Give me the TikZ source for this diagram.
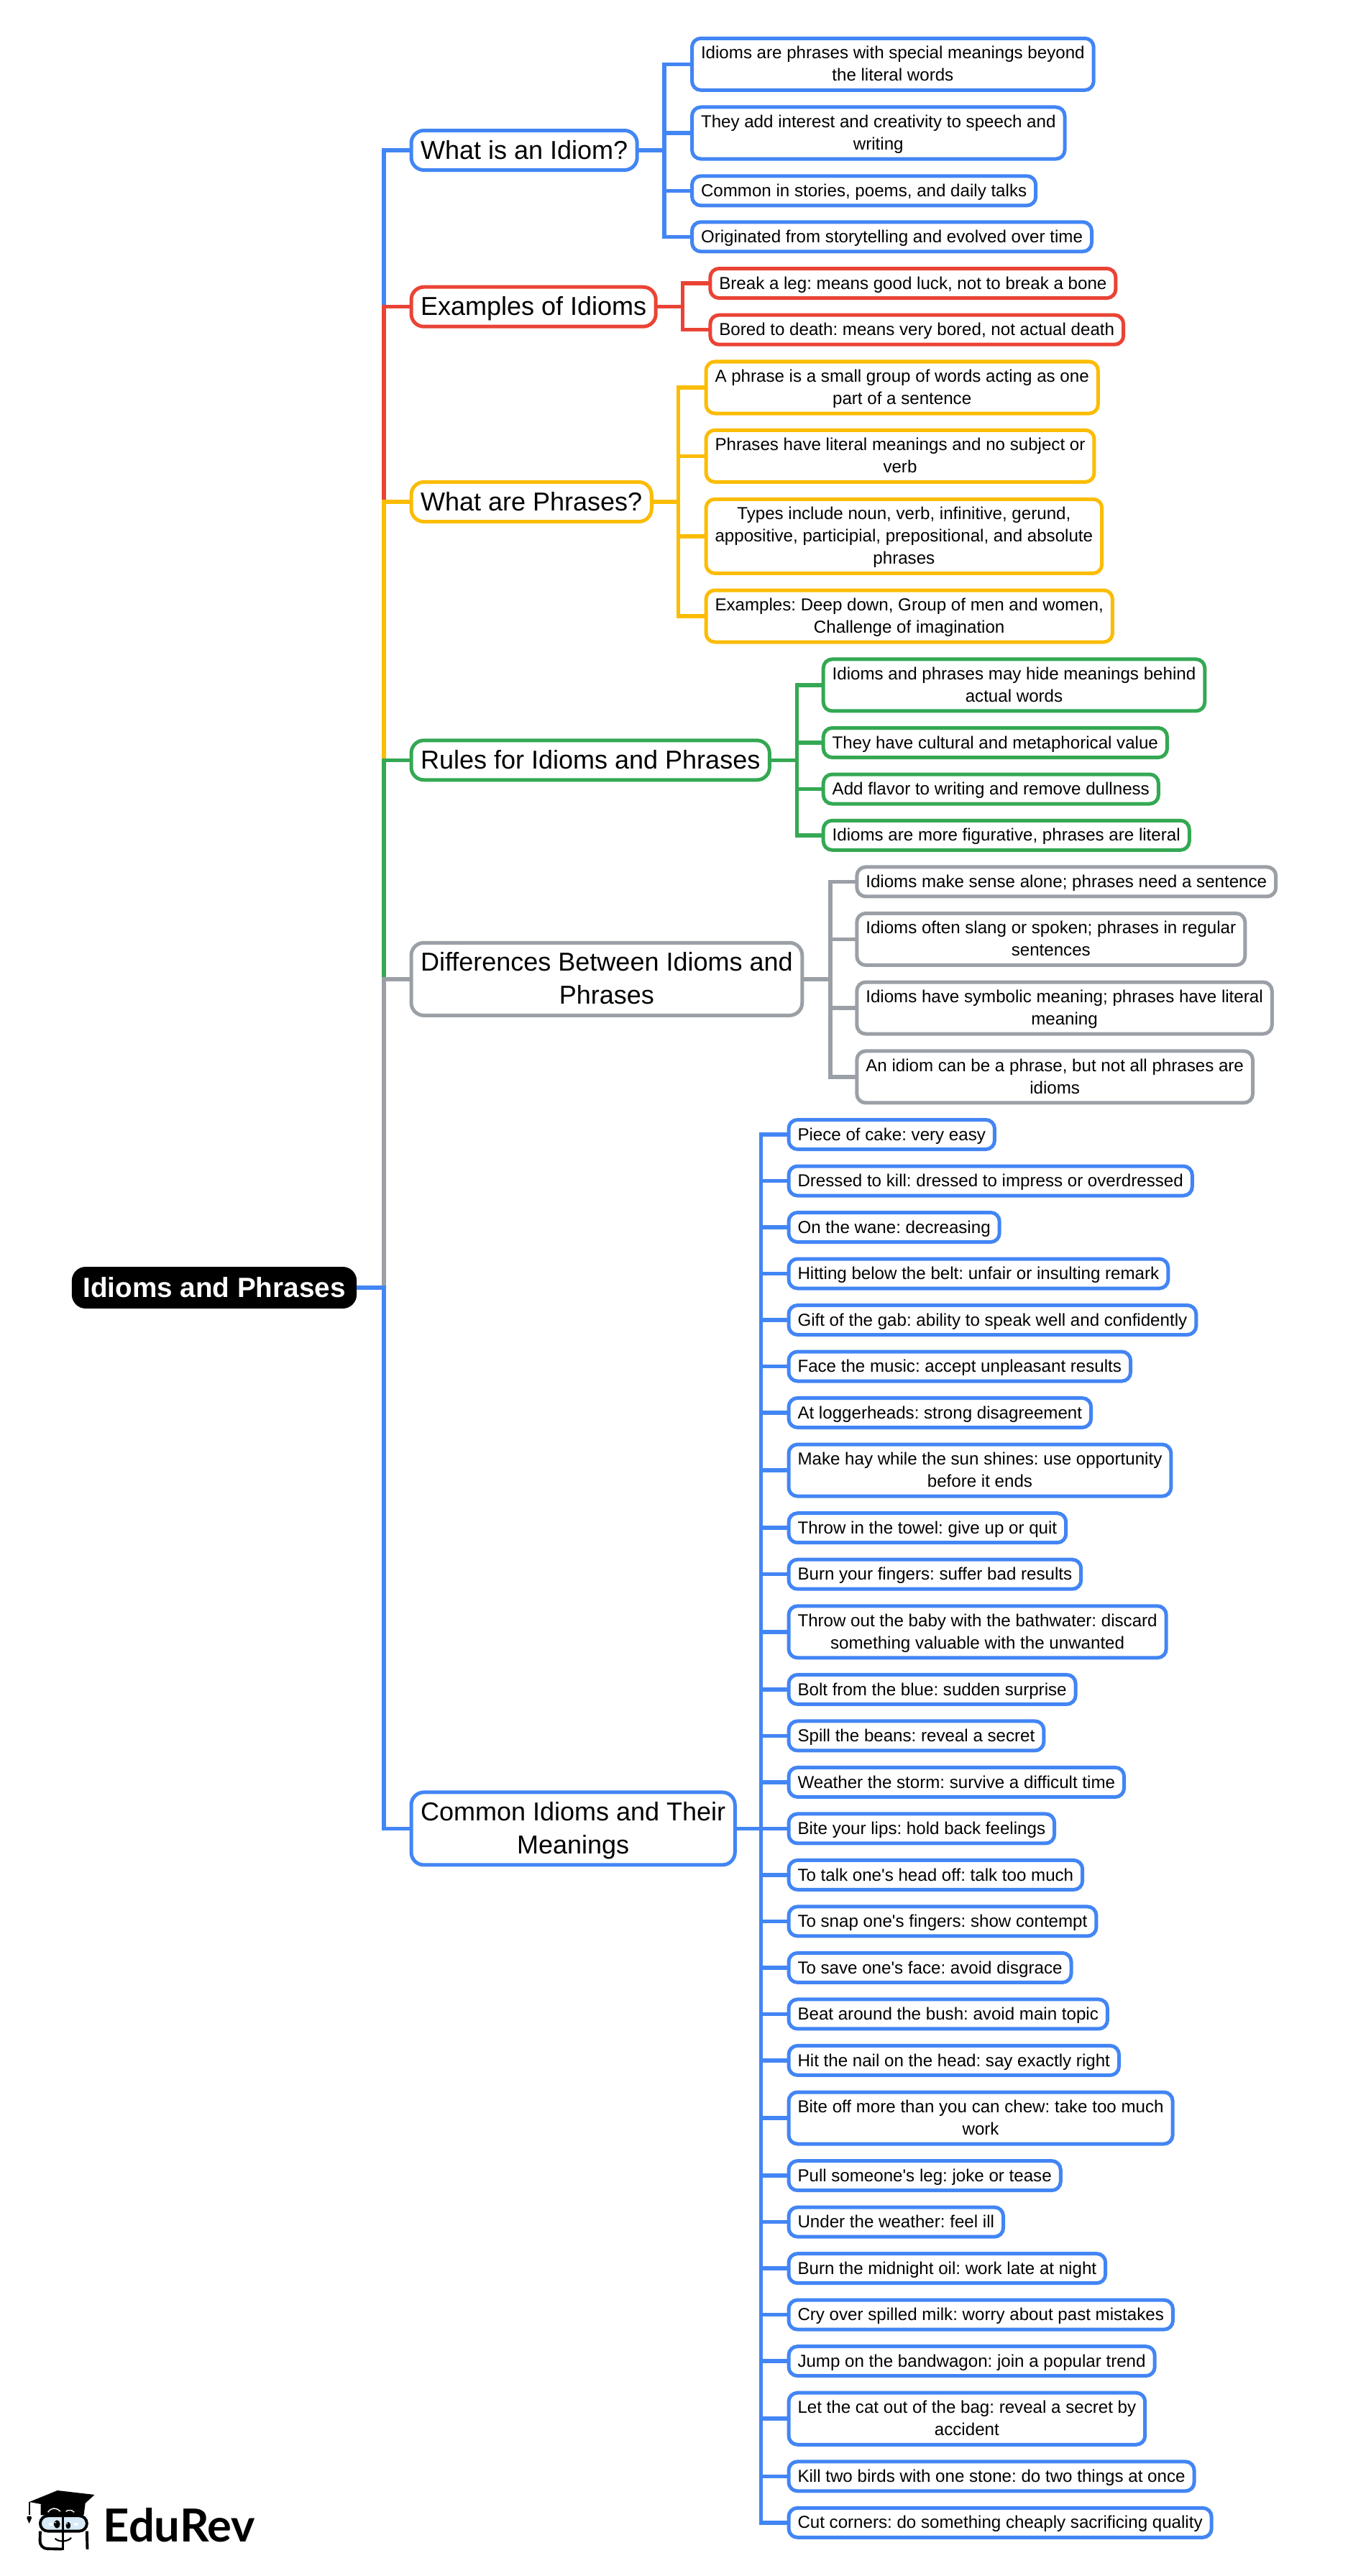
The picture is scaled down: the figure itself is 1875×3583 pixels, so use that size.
\documentclass[tikz,border=0pt]{standalone}
\usepackage{fontspec}
\setmainfont{Liberation Sans}[Ligatures=TeXOff]
\newfontfamily\logofont{Lato}
\definecolor{gblue}{HTML}{4285F4}
\definecolor{gred}{HTML}{EA4335}
\definecolor{gamber}{HTML}{FBBC04}
\definecolor{ggreen}{HTML}{34A853}
\definecolor{ggray}{HTML}{9AA0A6}
\definecolor{glass}{HTML}{D6EAF8}
\tikzset{
    rootbox/.style={fill=black,text=white,rounded corners=5.5pt,minimum width=3.96cm,minimum height=0.58cm,inner sep=0pt,outer sep=0pt,font=\fontsize{11pt}{13pt}\selectfont\bfseries},
    topicbox/.style={draw=#1,fill=white,line width=0.05cm,rounded corners=5pt,anchor=west,align=center,inner xsep=0.13cm,inner ysep=0pt,outer sep=0pt,minimum height=0.55cm,font=\fontsize{10.24pt}{13.09pt}\selectfont\frenchspacing,
        execute at begin node={\rule{0pt}{9.34pt}},execute at end node={\rule[-2.5pt]{0pt}{2.5pt}}},
    leafbox/.style={draw=#1,fill=white,line width=0.05cm,rounded corners=3.5pt,anchor=west,align=center,inner xsep=0.125cm,inner ysep=0pt,outer sep=0pt,minimum height=0.41cm,font=\fontsize{6.86pt}{8.82pt}\selectfont\frenchspacing,
        execute at begin node={\rule{0pt}{6.5pt}},execute at end node={\rule[-1.9pt]{0pt}{1.9pt}}},
    two/.style={minimum height=0.72cm,execute at begin node={\rule{0pt}{15.3pt}}},
    three/.style={minimum height=1.03cm,execute at begin node={\rule{0pt}{24.16pt}}},
    tall/.style={minimum height=1.01cm,execute at begin node={\rule{0pt}{22.42pt}}},
    link/.style={draw=#1,line width=0.055cm}
}
\begin{document}
\begin{tikzpicture}[x=0.01cm,y=-0.01cm]
    \useasboundingbox (0,0) rectangle (1875,3583);
    \node[rootbox](root) at (298,1791){Idioms and Phrases};
    \coordinate (trunk) at (534,1791);

    \node[topicbox=gblue](whatidiom) at (572,209){What is an Idiom?};
    \node[leafbox=gblue,two](idiomA) at (962.5,89.3){Idioms are phrases with special meanings beyond\\the literal words};
    \node[leafbox=gblue,two](idiomB) at (962.5,185){They add interest and creativity to speech and\\writing};
    \node[leafbox=gblue](idiomC) at (962.5,265.3){Common in stories, poems, and daily talks};
    \node[leafbox=gblue](idiomD) at (962.5,329.3){Originated from storytelling and evolved over time};
    \coordinate (idiomfork) at (924,209);

    \node[topicbox=gred](examples) at (572,426.7){Examples of Idioms};
    \node[leafbox=gred](exampleA) at (987.8,394){Break a leg: means good luck, not to break a bone};
    \node[leafbox=gred](exampleB) at (987.8,458.7){Bored to death: means very bored, not actual death};
    \coordinate (examplefork) at (949.6,426.7);

    \node[topicbox=gamber](phrases) at (572,698){What are Phrases?};
    \node[leafbox=gamber,two](phraseA) at (982,539){A phrase is a small group of words acting as one\\part of a sentence};
    \node[leafbox=gamber,two](phraseB) at (982,634.3){Phrases have literal meanings and no subject or\\verb};
    \node[leafbox=gamber,three](phraseC) at (982,745.8){Types include noun, verb, infinitive, gerund,\\appositive, participial, prepositional, and absolute\\phrases};
    \node[leafbox=gamber,two](phraseD) at (982,857){Examples: Deep down, Group of men and women,\\Challenge of imagination};
    \coordinate (phrasefork) at (943.5,698);

    \node[topicbox=ggreen](rules) at (572,1057.3){Rules for Idioms and Phrases};
    \node[leafbox=ggreen,two](ruleA) at (1145.2,952.9){Idioms and phrases may hide meanings behind\\actual words};
    \node[leafbox=ggreen](ruleB) at (1145.2,1033){They have cultural and metaphorical value};
    \node[leafbox=ggreen](ruleC) at (1145.2,1097.5){Add flavor to writing and remove dullness};
    \node[leafbox=ggreen](ruleD) at (1145.2,1161.8){Idioms are more figurative, phrases are literal};
    \coordinate (rulefork) at (1108.5,1057.3);

    \node[topicbox=ggray,tall](differences) at (572,1361.8){Differences Between Idioms and\\Phrases};
    \node[leafbox=ggray](diffA) at (1191.8,1226.4){Idioms make sense alone; phrases need a sentence};
    \node[leafbox=ggray,two](diffB) at (1191.8,1306.4){Idioms often slang or spoken; phrases in regular\\sentences};
    \node[leafbox=ggray,two](diffC) at (1191.8,1402){Idioms have symbolic meaning; phrases have literal\\meaning};
    \node[leafbox=ggray,two](diffD) at (1191.8,1497.9){An idiom can be a phrase, but not all phrases are\\idioms};
    \coordinate (difffork) at (1155,1361.8);

    \node[topicbox=gblue,tall](common) at (572,2543.4){Common Idioms and Their\\Meanings};
    \coordinate (commonfork) at (1058.5,2543.4);
    \node[leafbox=gblue](cakeleaf) at (1097,1578){Piece of cake: very easy};
    \node[leafbox=gblue](killleaf) at (1097,1642.5){Dressed to kill: dressed to impress or overdressed};
    \node[leafbox=gblue](waneleaf) at (1097,1707){On the wane: decreasing};
    \node[leafbox=gblue](beltleaf) at (1097,1771.5){Hitting below the belt: unfair or insulting remark};
    \node[leafbox=gblue](gableaf) at (1097,1836){Gift of the gab: ability to speak well and confidently};
    \node[leafbox=gblue](musicleaf) at (1097,1900.5){Face the music: accept unpleasant results};
    \node[leafbox=gblue](loggerleaf) at (1097,1965){At loggerheads: strong disagreement};
    \node[leafbox=gblue,two](hayleaf) at (1097,2045.1){Make hay while the sun shines: use opportunity\\before it ends};
    \node[leafbox=gblue](towelleaf) at (1097,2125.2){Throw in the towel: give up or quit};
    \node[leafbox=gblue](fingerleaf) at (1097,2189.7){Burn your fingers: suffer bad results};
    \node[leafbox=gblue,two](babyleaf) at (1097,2269.8){Throw out the baby with the bathwater: discard\\something valuable with the unwanted};
    \node[leafbox=gblue](boltleaf) at (1097,2349.9){Bolt from the blue: sudden surprise};
    \node[leafbox=gblue](beansleaf) at (1097,2414.4){Spill the beans: reveal a secret};
    \node[leafbox=gblue](stormleaf) at (1097,2478.9){Weather the storm: survive a difficult time};
    \node[leafbox=gblue](lipsleaf) at (1097,2543.4){Bite your lips: hold back feelings};
    \node[leafbox=gblue](talkleaf) at (1097,2607.9){To talk one's head off: talk too much};
    \node[leafbox=gblue](snapleaf) at (1097,2672.4){To snap one's fingers: show contempt};
    \node[leafbox=gblue](faceleaf) at (1097,2736.9){To save one's face: avoid disgrace};
    \node[leafbox=gblue](bushleaf) at (1097,2801.4){Beat around the bush: avoid main topic};
    \node[leafbox=gblue](nailleaf) at (1097,2865.9){Hit the nail on the head: say exactly right};
    \node[leafbox=gblue,two](chewleaf) at (1097,2946){Bite off more than you can chew: take too much\\work};
    \node[leafbox=gblue](legleaf) at (1097,3026.1){Pull someone's leg: joke or tease};
    \node[leafbox=gblue](illleaf) at (1097,3090.6){Under the weather: feel ill};
    \node[leafbox=gblue](oilleaf) at (1097,3155.1){Burn the midnight oil: work late at night};
    \node[leafbox=gblue](milkleaf) at (1097,3219.6){Cry over spilled milk: worry about past mistakes};
    \node[leafbox=gblue](wagonleaf) at (1097,3284.1){Jump on the bandwagon: join a popular trend};
    \node[leafbox=gblue,two](catleaf) at (1097,3364.2){Let the cat out of the bag: reveal a secret by\\accident};
    \node[leafbox=gblue](birdleaf) at (1097,3444.3){Kill two birds with one stone: do two things at once};
    \node[leafbox=gblue](cornerleaf) at (1097,3508.8){Cut corners: do something cheaply sacrificing quality};

    \draw[link=gblue](root.east)--(trunk)|-(whatidiom.west);
    \draw[link=gred](root.east)--(trunk)|-(examples.west);
    \draw[link=gamber](root.east)--(trunk)|-(phrases.west);
    \draw[link=ggreen](root.east)--(trunk)|-(rules.west);
    \draw[link=ggray](root.east)--(trunk)|-(differences.west);
    \draw[link=gblue](root.east)--(trunk)|-(common.west);

    \draw[link=gblue](whatidiom.east)--(idiomfork)|-(idiomA.west) (idiomfork)|-(idiomB.west) (idiomfork)|-(idiomC.west) (idiomfork)|-(idiomD.west);
    \draw[link=gred](examples.east)--(examplefork)|-(exampleA.west) (examplefork)|-(exampleB.west);
    \draw[link=gamber](phrases.east)--(phrasefork)|-(phraseA.west) (phrasefork)|-(phraseB.west) (phrasefork)|-(phraseC.west) (phrasefork)|-(phraseD.west);
    \draw[link=ggreen](rules.east)--(rulefork)|-(ruleA.west) (rulefork)|-(ruleB.west) (rulefork)|-(ruleC.west) (rulefork)|-(ruleD.west);
    \draw[link=ggray](differences.east)--(difffork)|-(diffA.west) (difffork)|-(diffB.west) (difffork)|-(diffC.west) (difffork)|-(diffD.west);
    \draw[link=gblue](common.east)--(commonfork)|-(cakeleaf.west) (commonfork)|-(killleaf.west) (commonfork)|-(waneleaf.west) (commonfork)|-(beltleaf.west)
        (commonfork)|-(gableaf.west) (commonfork)|-(musicleaf.west) (commonfork)|-(loggerleaf.west) (commonfork)|-(hayleaf.west)
        (commonfork)|-(towelleaf.west) (commonfork)|-(fingerleaf.west) (commonfork)|-(babyleaf.west) (commonfork)|-(boltleaf.west)
        (commonfork)|-(beansleaf.west) (commonfork)|-(stormleaf.west) (commonfork)|-(lipsleaf.west) (commonfork)|-(talkleaf.west)
        (commonfork)|-(snapleaf.west) (commonfork)|-(faceleaf.west) (commonfork)|-(bushleaf.west) (commonfork)|-(nailleaf.west)
        (commonfork)|-(chewleaf.west) (commonfork)|-(legleaf.west) (commonfork)|-(illleaf.west) (commonfork)|-(oilleaf.west)
        (commonfork)|-(milkleaf.west) (commonfork)|-(wagonleaf.west) (commonfork)|-(catleaf.west) (commonfork)|-(birdleaf.west)
        (commonfork)|-(cornerleaf.west);

    \node[anchor=base west,inner sep=0pt,font=\logofont\fontsize{18pt}{20pt}\selectfont\bfseries](logotext) at (143,3535){EduRev};
    \begin{scope}[shift={(20,3450)},x=0.00333cm,y=-0.00333cm]
        \fill[black](110,100)--(110,145)--(290,145)--(298,85)--cycle;
        \draw[white,line width=0.4pt](140,133)..controls (155,112) and (175,112) ..(192,130);
        \draw[white,line width=0.4pt](215,130)..controls (225,122) and (240,122) ..(250,133);
        \fill[black](62,90)--(180,42)--(335,60)--(262,127)--cycle;
        \draw[black,line width=0.6pt](62,90)--(62,145);
        \fill[black](54,150)--(70,150)--(72,158)--(62,180)--(52,158)--cycle;
        \draw[black,fill=glass,line width=1.1pt,rounded corners=3pt](108,148) rectangle (303,212);
        \draw[black,line width=1.1pt,rounded corners=3pt](108,212)--(106,285)--(198,287);
        \draw[black,line width=1.1pt,rounded corners=3pt](303,212)--(305,288);
        \draw[black,line width=1.1pt](203,142)--(203,290);
        \fill[black](178,183) ellipse (13 and 17);
        \fill[black](225,188) ellipse (10 and 14);
        \fill[white](172,176) circle (3);
        \fill[white](220,181) circle (2.5);
        \fill[white](143,176) rectangle (158,188);
        \fill[white](250,176) rectangle (265,188);
        \draw[black,line width=0.6pt](170,243)..controls (185,258) and (220,258) ..(238,240);
    \end{scope}
\end{tikzpicture}
\end{document}
